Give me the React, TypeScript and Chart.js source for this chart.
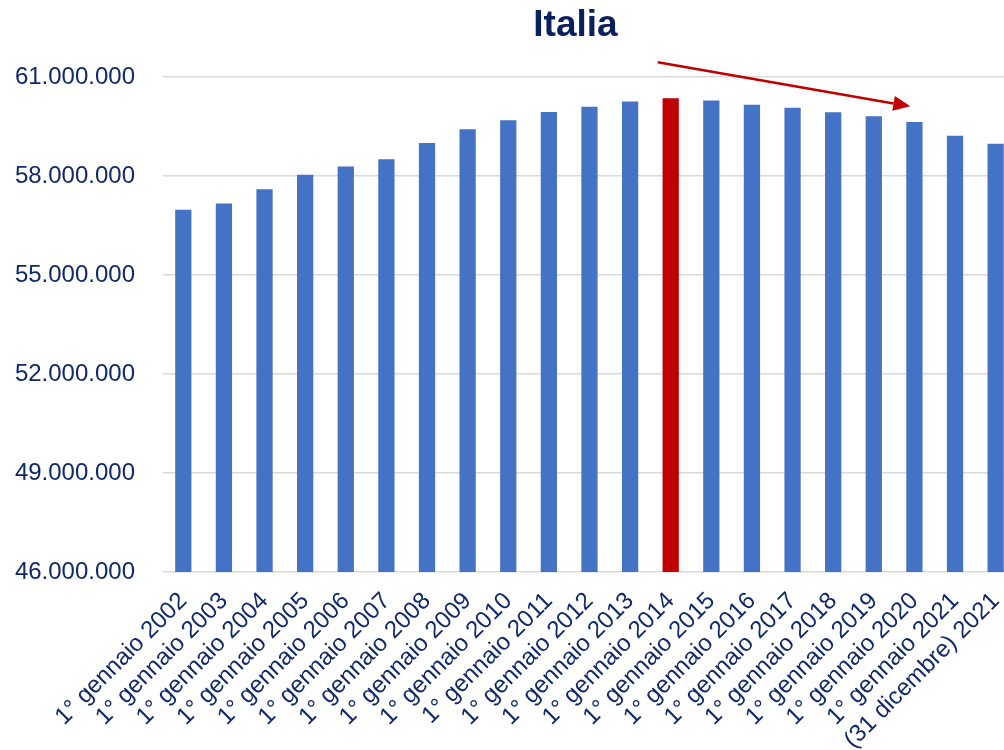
import React, { useEffect, useRef } from "react";
import { Chart, registerables } from "chart.js";

Chart.register(...registerables);

const TITLE = "Italia";

const CATEGORIES: string[] = [
  "1° gennaio 2002",
  "1° gennaio 2003",
  "1° gennaio 2004",
  "1° gennaio 2005",
  "1° gennaio 2006",
  "1° gennaio 2007",
  "1° gennaio 2008",
  "1° gennaio 2009",
  "1° gennaio 2010",
  "1° gennaio 2011",
  "1° gennaio 2012",
  "1° gennaio 2013",
  "1° gennaio 2014",
  "1° gennaio 2015",
  "1° gennaio 2016",
  "1° gennaio 2017",
  "1° gennaio 2018",
  "1° gennaio 2019",
  "1° gennaio 2020",
  "1° gennaio 2021",
  "(31 dicembre) 2021",
];

const POPULATION: number[] = [
  56980000, 57170000, 57600000, 58040000, 58290000, 58510000, 59000000,
  59415000, 59690000, 59940000, 60100000, 60260000, 60355000, 60285000,
  60160000, 60070000, 59930000, 59810000, 59640000, 59220000, 58980000,
];

const HIGHLIGHT_INDEX = 12;

const Y_MIN = 46000000;
const Y_MAX = 61000000;
const Y_STEP = 3000000;

// Trend arrow, in data units (category index, value)
const ARROW_START = { index: 11.68, value: 61445000 };
const ARROW_END = { index: 17.9, value: 60110000 };

const BAR_COLOR = "#4472c4";
const HIGHLIGHT_COLOR = "#c00000";
const TEXT_COLOR = "#10296a";
const TITLE_COLOR = "#0b1f5e";
const GRID_COLOR = "#d9d9d9";
const FONT_FAMILY = "'Liberation Sans', Arial, sans-serif";

function formatIt(v: number): string {
  return Math.round(v)
    .toString()
    .replace(/\B(?=(\d{3})+(?!\d))/g, ".");
}

const arrowPlugin = {
  id: "trendArrow",
  afterDatasetsDraw(chart: any) {
    const xs = chart.scales.x;
    const ys = chart.scales.y;
    const x1 = xs.getPixelForValue(ARROW_START.index);
    const y1 = ys.getPixelForValue(ARROW_START.value);
    const x2 = xs.getPixelForValue(ARROW_END.index);
    const y2 = ys.getPixelForValue(ARROW_END.value);
    const ctx = chart.ctx;
    const ang = Math.atan2(y2 - y1, x2 - x1);
    const headLen = 17;
    const headW = 7.5;
    const bx = x2 - headLen * Math.cos(ang);
    const by = y2 - headLen * Math.sin(ang);
    ctx.save();
    ctx.strokeStyle = HIGHLIGHT_COLOR;
    ctx.fillStyle = HIGHLIGHT_COLOR;
    ctx.lineWidth = 2.5;
    ctx.beginPath();
    ctx.moveTo(x1, y1);
    ctx.lineTo(bx, by);
    ctx.stroke();
    ctx.beginPath();
    ctx.moveTo(x2, y2);
    ctx.lineTo(bx + headW * Math.sin(ang), by - headW * Math.cos(ang));
    ctx.lineTo(bx - headW * Math.sin(ang), by + headW * Math.cos(ang));
    ctx.closePath();
    ctx.fill();
    ctx.restore();
  },
};

export default function App() {
  const canvasRef = useRef<HTMLCanvasElement | null>(null);

  useEffect(() => {
    if (!canvasRef.current) return;
    const chart = new Chart(canvasRef.current, {
      type: "bar",
      data: {
        labels: CATEGORIES,
        datasets: [
          {
            label: TITLE,
            data: POPULATION,
            backgroundColor: POPULATION.map((_, i) =>
              i === HIGHLIGHT_INDEX ? HIGHLIGHT_COLOR : BAR_COLOR
            ),
            barPercentage: 0.4,
            categoryPercentage: 1,
          },
        ],
      },
      options: {
        animation: false,
        responsive: true,
        maintainAspectRatio: false,
        layout: { padding: { top: 77, left: 0, right: 0, bottom: 0 } },
        plugins: {
          legend: { display: false },
          title: { display: false },
          tooltip: { enabled: false },
        },
        scales: {
          x: {
            grid: { display: false, drawTicks: false },
            border: { display: false },
            afterFit: (scale: any) => {
              scale.height = 178;
            },
            ticks: {
              autoSkip: false,
              minRotation: 45,
              maxRotation: 45,
              padding: 15,
              color: TEXT_COLOR,
              font: { family: FONT_FAMILY, size: 24 },
            },
          },
          y: {
            min: Y_MIN,
            max: Y_MAX,
            grid: { color: GRID_COLOR, lineWidth: 1.5, drawTicks: false },
            border: { display: false },
            afterFit: (scale: any) => {
              scale.width = 163;
            },
            ticks: {
              stepSize: Y_STEP,
              padding: 28,
              color: TEXT_COLOR,
              font: { family: FONT_FAMILY, size: 24 },
              callback: (v: any) => formatIt(Number(v)),
            },
          },
        },
      },
      plugins: [arrowPlugin],
    });
    return () => chart.destroy();
  }, []);

  return (
    <div
      style={{
        position: "absolute",
        left: 0,
        top: 0,
        width: 1004,
        height: 750,
        overflow: "hidden",
        background: "#ffffff",
      }}
    >
      <div style={{ position: "absolute", left: 0, top: 0, width: 1031, height: 750 }}>
        <canvas ref={canvasRef} />
      </div>
      <div
        style={{
          position: "absolute",
          left: 575.5,
          top: 5,
          transform: "translateX(-50%)",
          fontFamily: FONT_FAMILY,
          fontWeight: "bold",
          fontSize: 37,
          lineHeight: "37px",
          color: TITLE_COLOR,
          whiteSpace: "nowrap",
        }}
      >
        {TITLE}
      </div>
    </div>
  );
}
